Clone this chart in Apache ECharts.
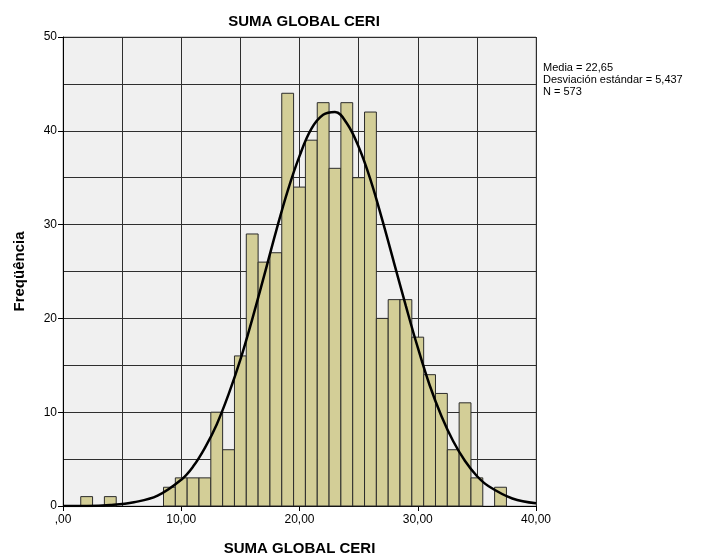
<!DOCTYPE html>
<html>
<head>
<meta charset="utf-8">
<script src="https://cdn.jsdelivr.net/npm/echarts@6/dist/echarts.min.js"></script>
<style>
  html, body { margin: 0; padding: 0; background: #fff; }
  #chart { width: 703px; height: 558px; }
</style>
</head>
<body>
<div id="chart"></div>
<script>
// bin centres (width 1) and counts
var binCenters = [2, 4, 9, 10, 11, 12, 13, 14, 15, 16, 17, 18, 19, 20, 21, 22, 23, 24, 25, 26, 27, 28, 29, 30, 31, 32, 33, 34, 35, 37];
var binCounts  = [1, 1, 2, 3, 3, 3, 10, 6, 16, 29, 26, 27, 44, 34, 39, 43, 36, 43, 35, 42, 20, 22, 22, 18, 14, 12, 6, 11, 3, 2];

// normal curve
var curveX = [0, 2, 4, 6, 8, 10, 11, 12, 13, 14, 15, 16, 17, 18, 19, 20, 21, 22, 23, 24, 25, 26, 27, 28, 29, 30, 31, 32, 33, 34, 35, 36, 38, 40];
var curveY = [0.0, 0.0, 0.1, 0.4, 1.1, 2.8, 4.2, 6.2, 8.7, 11.9, 15.6, 19.9, 24.5, 29.2, 33.6, 37.3, 40.2, 41.7, 42.0, 40.8, 38.3, 34.8, 30.5, 25.9, 21.3, 16.9, 12.9, 9.6, 6.9, 4.8, 3.2, 2.1, 0.8, 0.3];

var xTicks = [0, 10, 20, 30, 40];
var xTickLabels = [',00', '10,00', '20,00', '30,00', '40,00'];
var statsLines = ['Media = 22,65', 'Desviación estándar = 5,437', 'N = 573'];

var font = 'Arial, "Liberation Sans", sans-serif';
var gridLine = { color: '#2e2e2e', width: 1 };

var barData = binCenters.map(function (c, i) { return [c, binCounts[i]]; });
var curveData = curveX.map(function (x, i) { return [x, curveY[i]]; });

var chart = echarts.init(document.getElementById('chart'), null, { renderer: 'canvas' });

chart.setOption({
    animation: false,
    backgroundColor: '#ffffff',
    title: {
        text: 'SUMA GLOBAL CERI',
        left: 299,
        top: 9,
        textAlign: 'center',
        textStyle: { fontFamily: font, fontSize: 15, fontWeight: 'bold', color: '#000' }
    },
    graphic: [{
        type: 'text',
        left: 543,
        top: 62,
        style: {
            text: statsLines.join('\n'),
            font: '11px ' + font,
            fill: '#000',
            lineHeight: 12
        }
    }],
    grid: {
        left: 63, top: 37, width: 473, height: 469,
        outerBoundsMode: 'none',
        containLabel: false,
        show: true,
        backgroundColor: '#f0f0f0',
        borderColor: '#a0a0a0',
        borderWidth: 1
    },
    xAxis: {
        type: 'value',
        min: 0, max: 40, interval: 10,
        name: 'SUMA GLOBAL CERI',
        nameLocation: 'middle',
        nameGap: 35,
        nameTextStyle: { fontFamily: font, fontSize: 15, fontWeight: 'bold', color: '#000' },
        axisLine: { show: true, lineStyle: { color: '#000', width: 1 } },
        axisTick: { show: true, length: 5, lineStyle: { color: '#000' } },
        axisLabel: {
            fontFamily: font, fontSize: 12, color: '#000', margin: 8,
            formatter: function (v) {
                var i = xTicks.indexOf(v);
                return i >= 0 ? xTickLabels[i] : '';
            }
        },
        splitLine: { show: true, lineStyle: gridLine },
        minorTick: { show: false, splitNumber: 2 },
        minorSplitLine: { show: true, lineStyle: gridLine }
    },
    yAxis: {
        type: 'value',
        min: 0, max: 50, interval: 10,
        name: 'Freqüência',
        nameLocation: 'middle',
        nameGap: 36,
        nameRotate: 90,
        nameTextStyle: { fontFamily: font, fontSize: 15, fontWeight: 'bold', color: '#000' },
        axisLine: { show: true, lineStyle: { color: '#000', width: 1 } },
        axisTick: { show: true, length: 5, lineStyle: { color: '#000' } },
        axisLabel: { fontFamily: font, fontSize: 12, color: '#000', margin: 6 },
        splitLine: { show: true, lineStyle: gridLine },
        minorTick: { show: false, splitNumber: 2 },
        minorSplitLine: { show: true, lineStyle: gridLine }
    },
    series: [{
        type: 'custom',
        data: barData,
        renderItem: function (params, api) {
            var c = api.value(0), h = api.value(1);
            var p0 = api.coord([c - 0.5, h]);
            var p1 = api.coord([c + 0.5, 0]);
            return {
                type: 'rect',
                shape: { x: p0[0], y: p0[1], width: p1[0] - p0[0], height: p1[1] - p0[1] },
                style: { fill: '#d3ce97', stroke: '#2b2b2b', lineWidth: 1 }
            };
        },
        z: 3
    }, {
        type: 'line',
        data: curveData,
        smooth: 0.4,
        showSymbol: false,
        lineStyle: { color: '#000', width: 2.5 },
        z: 5
    }]
});
</script>
</body>
</html>
